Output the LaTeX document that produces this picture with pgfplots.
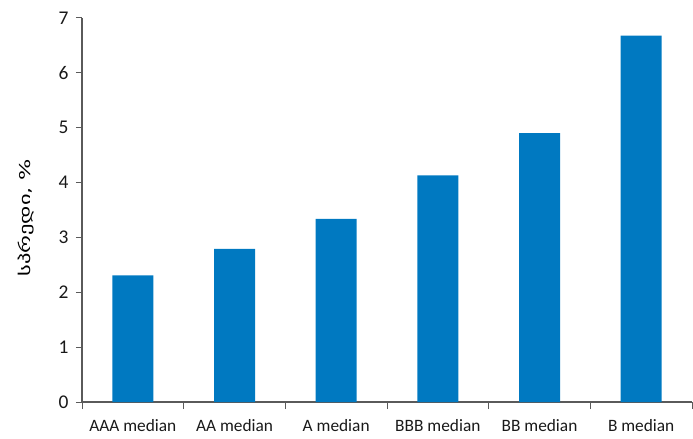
\documentclass[border=0pt]{standalone}
\usepackage{pgfplots}
\pgfplotsset{compat=1.18}
\usepackage{fontspec}
\setmainfont{Carlito}
\newfontfamily\geofont[Script=Georgian,FakeStretch=1.5]{DejaVu Sans}
\definecolor{barblue}{RGB}{0,121,193}
\definecolor{axgray}{RGB}{90,90,90}
\begin{document}
\begin{tikzpicture}
\useasboundingbox (-82bp,-37bp) rectangle (611bp,402bp);
\begin{axis}[
  scale only axis,
  width=610bp, height=384bp,
  at={(0,0)}, anchor=south west,
  xmin=-0.5, xmax=5.5,
  ymin=0, ymax=7,
  axis lines*=left,
  axis line style={axgray, line width=1.2pt},
  xtick={0,1,2,3,4,5},
  xticklabels={AAA median, AA median, A median, BBB median, BB median, B median},
  minor xtick={-0.5,0.5,1.5,2.5,3.5,4.5,5.5},
  ytick={0,1,2,3,4,5,6,7},
  tick align=outside,
  x tick style={draw=none},
  minor x tick style={draw=axgray, line width=1pt},
  y tick style={draw=axgray, line width=1pt},
  minor tick length=7bp,
  major tick length=6bp,
  /pgf/number format/assume math mode=true,
  xticklabel style={font=\fontsize{17.4}{19}\selectfont, text=black!90, yshift=-8bp},
  yticklabel style={font=\fontsize{19.5}{21}\selectfont, text=black!90, xshift=-4bp},
  ylabel={\geofont\fontsize{15}{17}\selectfont სპრედი, \%},
  ylabel style={at={(axis description cs:-0.092,0.48)}, anchor=center, rotate=0},
  clip=false,
]
\addplot[ybar, bar width=41bp, fill=barblue, draw=none] coordinates {
  (0,2.31) (1,2.79) (2,3.34) (3,4.13) (4,4.90) (5,6.68)
};
\end{axis}
\end{tikzpicture}
\end{document}
